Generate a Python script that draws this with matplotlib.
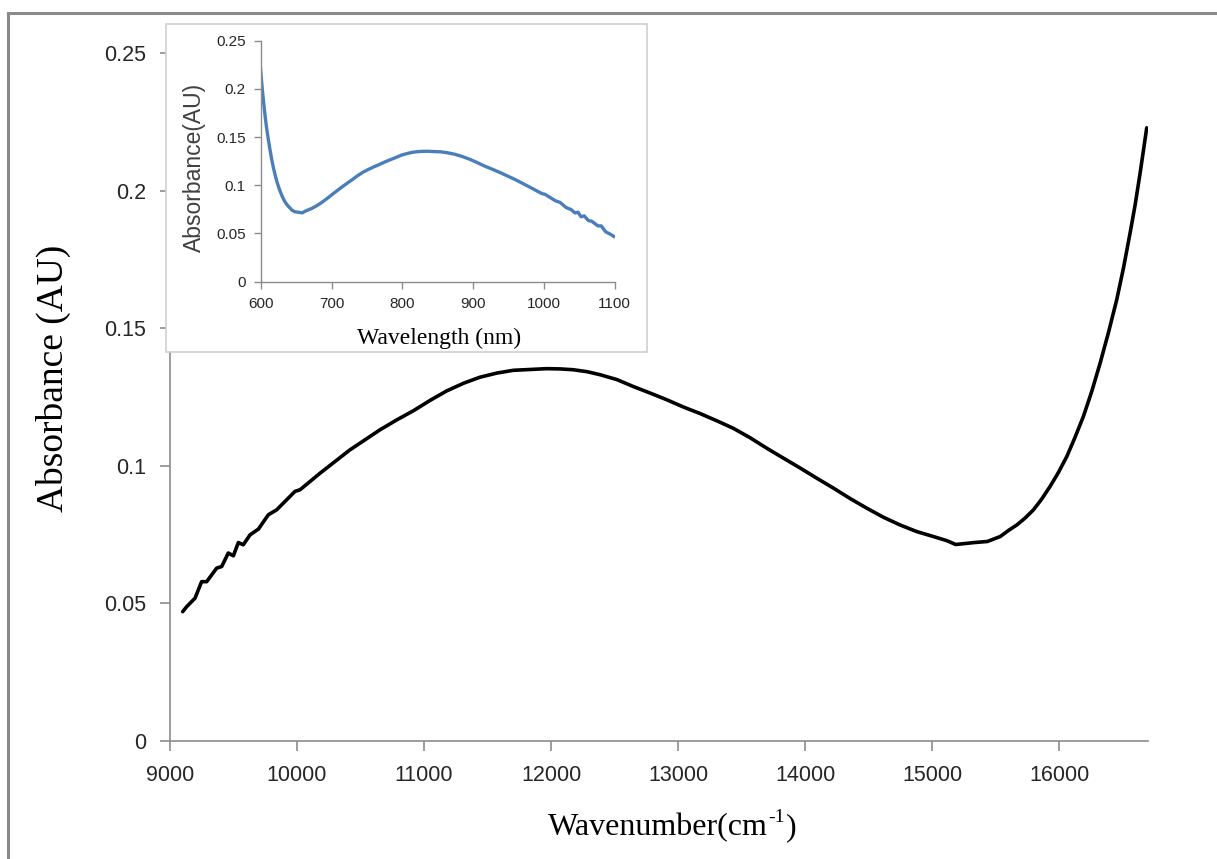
import numpy as np
import matplotlib
matplotlib.use('Agg')
import matplotlib.pyplot as plt
from matplotlib.patches import Rectangle
from matplotlib.lines import Line2D

# Absorbance spectrum (main plot in wavenumber)
wavenumber = [9100, 9131, 9197, 9249, 9289, 9367, 9407, 9459, 9499, 9538,
              9577, 9630, 9696, 9774, 9840, 9984, 10024, 10181, 10417, 10654,
              10786, 10916, 11049, 11178, 11311, 11441, 11574, 11703, 11836, 11966,
              12073, 12176, 12284, 12386, 12520, 12648, 12782, 12911, 13045, 13173,
              13308, 13436, 13567, 13698, 13829, 13961, 14092, 14223, 14355, 14486,
              14617, 14748, 14879, 15010, 15116, 15186, 15330, 15435, 15537, 15601,
              15667, 15732, 15798, 15863, 15929, 15995, 16061, 16126, 16191, 16257,
              16323, 16388, 16454, 16507, 16559, 16599, 16638, 16665, 16690]
absorbance = [0.0470, 0.0488, 0.0519, 0.0579, 0.0579, 0.0628, 0.0634, 0.0683, 0.0673, 0.0721,
              0.0713, 0.0749, 0.0770, 0.0822, 0.0840, 0.0907, 0.0913, 0.0973, 0.1058, 0.1131,
              0.1167, 0.1200, 0.1238, 0.1272, 0.1300, 0.1322, 0.1337, 0.1347, 0.1350, 0.1353,
              0.1352, 0.1349, 0.1342, 0.1331, 0.1313, 0.1288, 0.1264, 0.1240, 0.1213, 0.1190,
              0.1163, 0.1136, 0.1102, 0.1064, 0.1028, 0.0992, 0.0955, 0.0919, 0.0881, 0.0846,
              0.0813, 0.0785, 0.0761, 0.0743, 0.0728, 0.0714, 0.0721, 0.0725, 0.0743, 0.0765,
              0.0785, 0.0810, 0.0840, 0.0879, 0.0925, 0.0976, 0.1034, 0.1104, 0.1179, 0.1270,
              0.1373, 0.1483, 0.1604, 0.1719, 0.1846, 0.1949, 0.2064, 0.2149, 0.2228]

x_ticks = [9000, 10000, 11000, 12000, 13000, 14000, 15000, 16000]
y_ticks = [0, 0.05, 0.1, 0.15, 0.2, 0.25]
y_ticklabels = ['0', '0.05', '0.1', '0.15', '0.2', '0.25']
inset_x_ticks = [600, 700, 800, 900, 1000, 1100]

# inset shows the same spectrum vs wavelength (nm)
wavelength = 1e7 / np.array(wavenumber)

W, H = 1217, 859
fig = plt.figure(figsize=(W / 100, H / 100), dpi=100)
fig.patch.set_facecolor('white')


def fx(px):
    return px / W


def fy(py):
    return 1 - py / H


axis_grey = '#8c8c8c'
tick_col = '#262626'
sans = 'Liberation Sans'
serif = 'Liberation Serif'

# outer frame (top and left edges visible)
fig.add_artist(Line2D([fx(8), fx(8)], [fy(13), 0], transform=fig.transFigure,
                      color='#8a8a8a', lw=2.2))
fig.add_artist(Line2D([fx(8), 1], [fy(13), fy(13)], transform=fig.transFigure,
                      color='#8a8a8a', lw=2.2))

# main axes
left, right, top, bottom = 170, 1148, 53, 741
ax = fig.add_axes([fx(left), fy(bottom), fx(right - left), (bottom - top) / H])
ax.plot(wavenumber, absorbance, color='black', lw=2.6, solid_capstyle='round',
        solid_joinstyle='round')
ax.set_xlim(9000, 16700)
ax.set_ylim(0, 0.25)
ax.set_xticks(x_ticks)
ax.set_xticklabels([str(t) for t in x_ticks])
ax.set_yticks(y_ticks)
ax.set_yticklabels(y_ticklabels)
for s in ['top', 'right']:
    ax.spines[s].set_visible(False)
for s in ['left', 'bottom']:
    ax.spines[s].set_color(axis_grey)
    ax.spines[s].set_linewidth(1.2)
ax.tick_params(direction='out', length=7, width=1.2, color=axis_grey,
               labelsize=15.5, labelcolor=tick_col, pad=10)
for lab in ax.get_xticklabels() + ax.get_yticklabels():
    lab.set_family(sans)
ax.patch.set_alpha(0)

# x label with a plain-hyphen superscript, built from three pieces
renderer = fig.canvas.get_renderer()
t1 = fig.text(fx(548), fy(828), 'Wavenumber(cm', family=serif, fontsize=23,
              ha='left', va='center')
bb = t1.get_window_extent(renderer)
t2 = fig.text(bb.x1 / W + 0.0005, fy(817), '-1', family=serif, fontsize=14,
              ha='left', va='center')
bb2 = t2.get_window_extent(renderer)
fig.text(bb2.x1 / W + 0.0005, fy(828), ')', family=serif, fontsize=23,
         ha='left', va='center')

fig.text(fx(53), fy(378), 'Absorbance (AU)', family=serif, fontsize=27,
         rotation=90, ha='center', va='center')

# inset box
box = Rectangle((fx(166), fy(352)), fx(647 - 166), (352 - 24) / H,
                transform=fig.transFigure, facecolor='white',
                edgecolor='#d0d0d0', lw=1.2, zorder=2)
fig.add_artist(box)

il, ir, it, ib = 261, 614.5, 40.7, 281.7
ax2 = fig.add_axes([fx(il), fy(ib), fx(ir - il), (ib - it) / H], zorder=3)
ax2.plot(wavelength, absorbance, color='#4a7ebb', lw=2.4, solid_joinstyle='round')
ax2.set_xlim(600, 1100)
ax2.set_ylim(0, 0.25)
ax2.set_xticks(inset_x_ticks)
ax2.set_xticklabels([str(t) for t in inset_x_ticks])
ax2.set_yticks(y_ticks)
ax2.set_yticklabels(y_ticklabels)
for s in ['top', 'right']:
    ax2.spines[s].set_visible(False)
for s in ['left', 'bottom']:
    ax2.spines[s].set_color(axis_grey)
    ax2.spines[s].set_linewidth(1.0)
ax2.tick_params(direction='out', length=5, width=1.0, color=axis_grey,
                labelsize=11, labelcolor=tick_col, pad=6)
for lab in ax2.get_xticklabels() + ax2.get_yticklabels():
    lab.set_family(sans)
ax2.patch.set_alpha(0)

fig.text(fx(194), fy(167), 'Absorbance(AU)', family=sans, fontsize=16.5,
         rotation=90, ha='center', va='center', color='#404040', zorder=4)
fig.text(fx(439), fy(338), 'Wavelength (nm)', family=serif, fontsize=17,
         ha='center', va='center', zorder=4)

fig.savefig('out.png', dpi=100)
